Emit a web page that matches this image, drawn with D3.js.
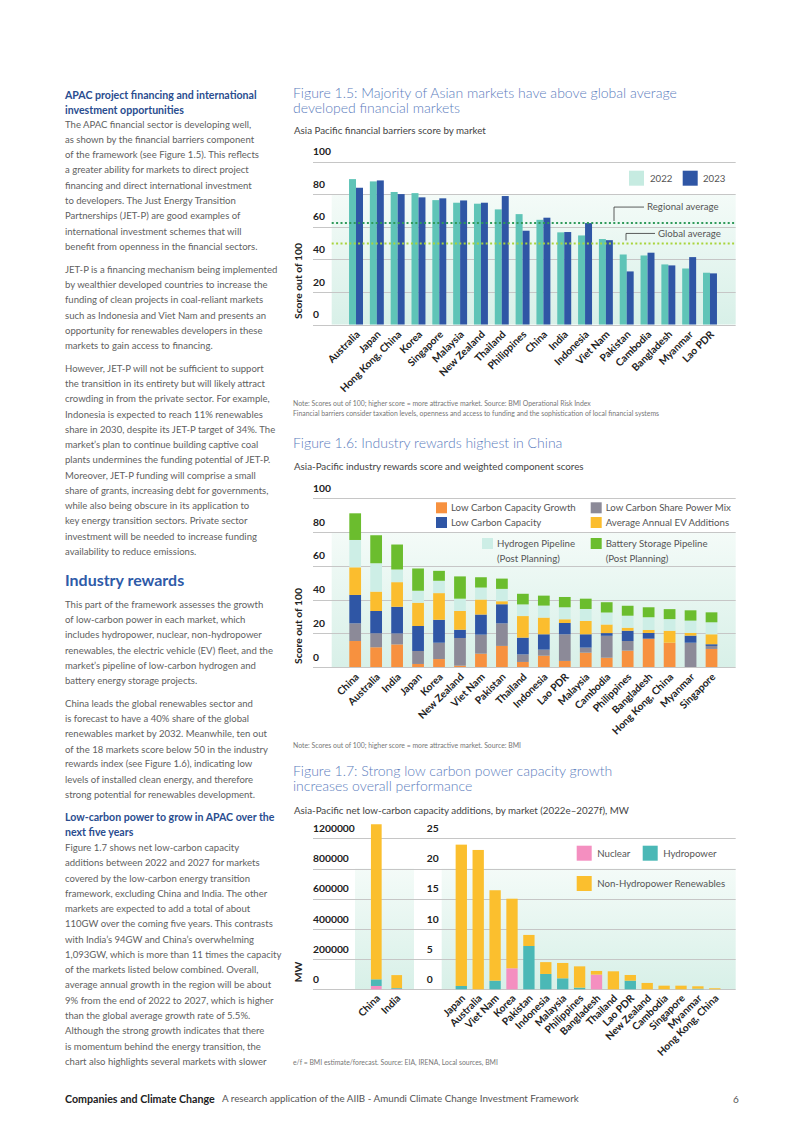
<!DOCTYPE html>
<html><head><meta charset="utf-8">
<script src="https://cdn.jsdelivr.net/npm/d3@7"></script>
<style>
body{margin:0;background:#fff}
svg{display:block}
text{font-family:Lato,"Source Sans Pro","Noto Sans",sans-serif}
</style>
</head><body>
<svg id="page" width="802" height="1133"></svg>
<script>
// ---------------- DATA ----------------
const fig5Markets = ["Australia","Japan","Hong Kong, China","Korea","Singapore","Malaysia","New Zealand","Thailand","Philippines","China","India","Indonesia","Viet Nam","Pakistan","Cambodia","Bangladesh","Myanmar","Lao PDR"];
const fig5Values2022 = [89.3,87.9,81.4,80.7,76.4,74.8,74.2,70.7,67.8,64.3,56.6,54.7,52.5,43.0,42.4,36.9,34.4,31.8];
const fig5Values2023 = [84.0,88.5,80.1,78.1,77.5,76.2,74.8,78.9,57.6,65.6,56.8,62.3,51.8,32.6,44.1,36.3,41.4,31.4];
const fig5Years = ["2022","2023"];
const fig5Ticks = [0,20,40,60,80,100];
const regionalAverage = 62.3;
const globalAverage = 49.8;

const fig6Markets = ["China","Australia","India","Japan","Korea","New Zealand","Viet Nam","Pakistan","Thailand","Indonesia","Lao PDR","Malaysia","Cambodia","Philippines","Bangladesh","Hong Kong, China","Myanmar","Singapore"];
const fig6SeriesNames = ["Low Carbon Capacity Growth","Low Carbon Share Power Mix","Low Carbon Capacity","Average Annual EV Additions","Hydrogen Pipeline (Post Planning)","Battery Storage Pipeline (Post Planning)"];
const fig6Growth   = [15.4,11.7,13.4,1.8,4.7,0.8,7.9,12.5,3.0,6.7,3.6,8.5,5.5,9.7,16.8,14.4,0,10.7];
const fig6Share    = [10.5,8.3,6.5,7.7,9.7,16.4,11.3,13.4,4.5,3.6,15.8,3.0,13.0,5.7,0,0,14.4,1.8];
const fig6Capacity = [16.8,13.2,15.8,14.8,13.6,4.9,11.9,11.3,9.9,9.1,6.7,7.9,1.6,6.1,3.4,0,4.2,1.0];
const fig6EV       = [16.4,11.5,14.6,13.8,15.8,11.1,8.9,1.8,12.8,9.9,2.2,7.9,5.1,1.8,1.8,7.1,1.6,5.9];
const fig6Hydrogen = [16.2,16.8,7.5,7.1,7.3,7.3,7.1,7.3,6.9,7.1,7.1,7.1,7.1,7.1,7.5,6.9,7.3,7.1];
const fig6Battery  = [15.8,16.6,14.8,13.2,5.9,13.2,6.1,6.1,6.3,5.9,6.1,6.1,6.1,5.9,5.9,5.9,6.1,5.9];
const fig6Ticks = [0,20,40,60,80,100];

const fig7BigMarkets = ["China","India"];
const fig7BigNuclear = [22000,3000];
const fig7BigHydro   = [44000,5000];
const fig7BigRenew   = [1027000,86000];
const fig7Markets = ["Japan","Australia","Viet Nam","Korea","Pakistan","Indonesia","Malaysia","Philippines","Bangladesh","Thailand","Lao PDR","New Zealand","Cambodia","Singapore","Myanmar","Hong Kong, China"];
const fig7Nuclear = [0,0,0,3.48,0,0,0,0,2.43,0,0,0,0,0,0,0];
const fig7Hydro   = [0.55,0,1.43,0,7.17,2.54,1.82,0.28,0,0,1.43,0,0,0,0.1,0];
const fig7Renew   = [23.4,23.07,14.97,11.52,1.83,1.96,2.54,3.52,0.61,2.98,0.94,1.05,0.6,0.6,0.4,0.17];
const fig7SeriesNames = ["Nuclear","Hydropower","Non-Hydropower Renewables"];
const fig7LeftTickValues = [0,200000,400000,600000,800000,1000000];
const fig7LeftTickLabels = ["0","200000","400000","600000","800000","1200000"];
const fig7RightTicks = [0,5,10,15,20,25];

// ---------------- TEXT ----------------
const col1 = [
 ["h","APAC project financing and international",95],
 ["h","investment opportunities",110],
 ["b","The APAC financial sector is developing well,",124.3],
 ["b","as shown by the financial barriers component",140],
 ["b","of the framework (see Figure 1.5). This reflects",155],
 ["b","a greater ability for markets to direct project",170],
 ["b","financing and direct international investment",185.7],
 ["b","to developers. The Just Energy Transition",200.7],
 ["b","Partnerships (JET-P) are good examples of",216],
 ["b","international investment schemes that will",231.3],
 ["b","benefit from openness in the financial sectors.",246.7],
 ["b","JET-P is a financing mechanism being implemented",269.3],
 ["b","by wealthier developed countries to increase the",284.7],
 ["b","funding of clean projects in coal-reliant markets",300],
 ["b","such as Indonesia and Viet Nam and presents an",315.3],
 ["b","opportunity for renewables developers in these",330.7],
 ["b","markets to gain access to financing.",346],
 ["b","However, JET-P will not be sufficient to support",368.7],
 ["b","the transition in its entirety but will likely attract",384],
 ["b","crowding in from the private sector. For example,",399],
 ["b","Indonesia is expected to reach 11% renewables",414.3],
 ["b","share in 2030, despite its JET-P target of 34%. The",429.3],
 ["b","market\u2019s plan to continue building captive coal",444.7],
 ["b","plants undermines the funding potential of JET-P.",460],
 ["b","Moreover, JET-P funding will comprise a small",475.3],
 ["b","share of grants, increasing debt for governments,",490.3],
 ["b","while also being obscure in its application to",505.7],
 ["b","key energy transition sectors. Private sector",521],
 ["b","investment will be needed to increase funding",536.3],
 ["b","availability to reduce emissions.",551.3],
 ["H","Industry rewards",580],
 ["b","This part of the framework assesses the growth",604.3],
 ["b","of low-carbon power in each market, which",620],
 ["b","includes hydropower, nuclear, non-hydropower",635],
 ["b","renewables, the electric vehicle (EV) fleet, and the",650.7],
 ["b","market\u2019s pipeline of low-carbon hydrogen and",665.7],
 ["b","battery energy storage projects.",680.7],
 ["b","China leads the global renewables sector and",703.3],
 ["b","is forecast to have a 40% share of the global",718.7],
 ["b","renewables market by 2032. Meanwhile, ten out",734],
 ["b","of the 18 markets score below 50 in the industry",749.3],
 ["b","rewards index (see Figure 1.6), indicating low",764],
 ["b","levels of installed clean energy, and therefore",779.3],
 ["b","strong potential for renewables development.",795],
 ["h","Low-carbon power to grow in APAC over the",817.7],
 ["h","next five years",832.7],
 ["b","Figure 1.7 shows net low-carbon capacity",847.3],
 ["b","additions between 2022 and 2027 for markets",862.7],
 ["b","covered by the low-carbon energy transition",878.3],
 ["b","framework, excluding China and India. The other",893.3],
 ["b","markets  are expected to add a total of about",908.7],
 ["b","110GW over the coming five years. This contrasts",924],
 ["b","with India\u2019s 94GW and China\u2019s overwhelming",939.3],
 ["b","1,093GW, which is more than 11 times the capacity",954.3],
 ["b","of the markets listed below combined. Overall,",969.7],
 ["b","average annual growth in the region will be about",985],
 ["b","9% from the end of 2022 to 2027, which is higher",1000.3],
 ["b","than the global average growth rate of 5.5%.",1015.7],
 ["b","Although the strong growth indicates that there",1031],
 ["b","is momentum behind the energy transition, the",1046.3],
 ["b","chart also highlights several markets with slower",1061.7]
];

// ---------------- HELPERS ----------------
const svg = d3.select("#page");
svg.append("rect").attr("width",802).attr("height",1133).attr("fill","#fff");
const defs = svg.append("defs");
const grad = defs.append("linearGradient").attr("id","shade").attr("x1",0).attr("y1",0).attr("x2",0).attr("y2",1);
grad.append("stop").attr("offset","0%").attr("stop-color","#f4fbf8");
grad.append("stop").attr("offset","100%").attr("stop-color","#d8f0e8");

function fitSize(sel, target){
  const cur = parseFloat(sel.attr("font-size"));
  const w = sel.node().getComputedTextLength();
  return cur * target / w;
}
function text(g, x, y, s, size, opts={}){
  return g.append("text").attr("x",x).attr("y",y).attr("dy","0.35em")
    .attr("font-size",size).attr("fill",opts.fill||"#555")
    .attr("font-weight",opts.weight||400)
    .attr("text-anchor",opts.anchor||"start").text(s);
}

// ---------------- LEFT COLUMN ----------------
const left = svg.append("g");
const refBody = text(left,0,-100,"JET-P is a financing mechanism being implemented",10);
const bodySize = fitSize(refBody, 212.7); refBody.remove();
const refH = text(left,0,-100,"APAC project financing and international",10,{weight:700});
const hSize = fitSize(refH, 191.6); refH.remove();
const refHH = text(left,0,-100,"Industry rewards",10,{weight:700});
const hhSize = fitSize(refHH, 119.3); refHH.remove();
col1.forEach(([k,s,y])=>{
  if(k==="b") text(left,65,y,s,bodySize,{fill:"#5f5f5f"});
  else if(k==="h") text(left,65,y,s,hSize,{fill:"#2a4d8f",weight:700});
  else text(left,65,y,s,hhSize,{fill:"#2e5aa8",weight:700});
});

// footer
const foot = svg.append("g");
const fb = text(foot,65,1099,"Companies and Climate Change",10,{fill:"#222",weight:700});
fb.attr("font-size",fitSize(fb,150));
const fr = text(foot,222,1099,"A research application of the AIIB - Amundi Climate Change Investment Framework",10,{fill:"#555"});
fr.attr("font-size",fitSize(fr,357));
text(foot,733,1099,"6",10,{fill:"#555"});

// common text sizes for charts
const refTitle = text(svg,0,-100,"Figure 1.5: Majority of Asian markets have above global average",15,{weight:300});
const titleSize = fitSize(refTitle,384); refTitle.remove();
const refSub = text(svg,0,-100,"Asia Pacific financial barriers score by market",10);
const subSize = fitSize(refSub,192); refSub.remove();
const refNote = text(svg,0,-100,"Note: Scores out of 100; higher score = more attractive market. Source: BMI Operational Risk Index",7);
const noteSize = fitSize(refNote,298); refNote.remove();
const refLeg = text(svg,0,-100,"Low Carbon Capacity Growth",10);
const legSize = fitSize(refLeg,125); refLeg.remove();
const titleColor = "#5b7dbd";
const tickSize = 10.3;
const labelSize = 10.2;

function title(lines, y0, sub, subY){
  lines.forEach((l,i)=>text(svg,293,y0+i*15,l,titleSize,{fill:titleColor,weight:300}));
  text(svg,294,subY,sub,subSize,{fill:"#444"});
}
function yTitle(s, cx, cy){
  svg.append("text").attr("transform",`translate(${cx},${cy}) rotate(-90)`)
    .attr("text-anchor","middle").attr("dy","0.35em").attr("font-size",10.3).attr("font-weight",700)
    .attr("fill","#222").text(s);
}
function xLabels(g, scale, names, y0){
  g.selectAll("text.xl").data(names).enter().append("text").attr("class","xl")
    .attr("transform",d=>`translate(${scale(d)+scale.bandwidth()/2+2},${y0}) rotate(-45)`)
    .attr("text-anchor","end").attr("dy","0.35em").attr("font-size",labelSize).attr("font-weight",700)
    .attr("fill","#222").text(d=>d);
}
function grid(g, y, vals, x0, x1){
  g.selectAll("line.gl").data(vals).enter().append("line").attr("class","gl")
    .attr("x1",x0).attr("x2",x1).attr("y1",d=>Math.round(y(d))+0.5).attr("y2",d=>Math.round(y(d))+0.5)
    .attr("stroke","#c6c6c6").attr("stroke-width",1);
}

// ---------------- FIGURE 1.5 ----------------
title(["Figure 1.5: Majority of Asian markets have above global average","developed financial markets"],93,"Asia Pacific financial barriers score by market",131);
const g5 = svg.append("g");
const y5 = d3.scaleLinear().domain([0,100]).range([324.5,161.7]);
const x5 = d3.scaleBand().domain(fig5Markets).range([345.6,720.4]).paddingInner(0.33).paddingOuter(0.165);
const xs5 = d3.scaleBand().domain(fig5Years).range([0,x5.bandwidth()]);
g5.append("rect").attr("x",331.7).attr("width",735.7-331.7).attr("y",y5(80)).attr("height",y5(0)-y5(80)).attr("fill","url(#shade)");
grid(g5,y5,fig5Ticks,313,735.7);
fig5Ticks.forEach(t=>text(g5,313,y5(t)-10,String(t),tickSize,{fill:"#222",weight:700}));
const rows5 = fig5Markets.map((m,i)=>({m, v:[fig5Values2022[i],fig5Values2023[i]]}));
const grp5 = g5.selectAll("g.grp").data(rows5).enter().append("g").attr("transform",d=>`translate(${x5(d.m)},0)`);
grp5.selectAll("rect").data(d=>d.v.map((v,j)=>({yr:fig5Years[j],v}))).enter().append("rect")
  .attr("x",d=>xs5(d.yr)).attr("width",xs5.bandwidth()).attr("y",d=>y5(d.v)).attr("height",d=>y5(0)-y5(d.v))
  .attr("fill",d=>d.yr==="2022"?"#5fc4b7":"#2f56a5");
// averages
g5.append("line").attr("x1",331.7).attr("x2",735.7).attr("y1",y5(regionalAverage)).attr("y2",y5(regionalAverage))
  .attr("stroke","#2f9a5a").attr("stroke-width",2).attr("stroke-dasharray","2,2.4");
g5.append("line").attr("x1",331.7).attr("x2",735.7).attr("y1",y5(globalAverage)).attr("y2",y5(globalAverage))
  .attr("stroke","#a9d43c").attr("stroke-width",2).attr("stroke-dasharray","2,2.4");
const annSize = legSize;
g5.append("path").attr("d",`M644,${y5(regionalAverage)-16}H614V${y5(regionalAverage)-2}`).attr("fill","none").attr("stroke","#333").attr("stroke-width",0.8);
text(g5,647,y5(regionalAverage)-16,"Regional average",annSize,{fill:"#555"});
g5.append("path").attr("d",`M655,${y5(globalAverage)-10}H626V${y5(globalAverage)-3}`).attr("fill","none").attr("stroke","#333").attr("stroke-width",0.8);
text(g5,658,y5(globalAverage)-10,"Global average",annSize,{fill:"#555"});
// legend
g5.append("rect").attr("x",629).attr("y",170.7).attr("width",15).attr("height",15).attr("fill","#c6ebe1");
text(g5,650,178.2,"2022",annSize,{fill:"#555"});
g5.append("rect").attr("x",682.7).attr("y",170.7).attr("width",15).attr("height",15).attr("fill","#2f56a5");
text(g5,703,178.2,"2023",annSize,{fill:"#555"});
xLabels(g5,x5,fig5Markets,y5(0)+8);
yTitle("Score out of 100",298,281);
text(svg,293,404,"Note: Scores out of 100; higher score = more attractive market. Source: BMI Operational Risk Index",noteSize,{fill:"#777"});
text(svg,293,414,"Financial barriers consider taxation levels, openness and access to funding and the sophistication of local financial systems",noteSize,{fill:"#777"});

// ---------------- FIGURE 1.6 ----------------
title(["Figure 1.6: Industry rewards highest in China"],443,"Asia-Pacific industry rewards score and weighted component scores",467);
const g6 = svg.append("g");
const y6 = d3.scaleLinear().domain([0,100]).range([667,498.3]);
const x6 = d3.scaleBand().domain(fig6Markets).range([344.7,722]).paddingInner(0.44).paddingOuter(0.22);
const colors6 = ["#f7913f","#8c8a98","#2f56a5","#fbbd2e","#cdeee6","#6bbd2e"];
g6.append("rect").attr("x",331.7).attr("width",735.7-331.7).attr("y",y6(80)).attr("height",y6(0)-y6(80)).attr("fill","url(#shade)");
grid(g6,y6,fig6Ticks,313,735.7);
fig6Ticks.forEach(t=>text(g6,313,y6(t)-10,String(t),tickSize,{fill:"#222",weight:700}));
const rows6 = fig6Markets.map((m,i)=>({m, s0:fig6Growth[i], s1:fig6Share[i], s2:fig6Capacity[i], s3:fig6EV[i], s4:fig6Hydrogen[i], s5:fig6Battery[i]}));
const stack6 = d3.stack().keys(["s0","s1","s2","s3","s4","s5"])(rows6);
g6.selectAll("g.ser").data(stack6).enter().append("g").attr("fill",(d,i)=>colors6[i])
  .selectAll("rect").data(d=>d).enter().append("rect")
  .attr("x",d=>x6(d.data.m)).attr("width",x6.bandwidth())
  .attr("y",d=>y6(d[1])).attr("height",d=>y6(d[0])-y6(d[1]));
// legend
const leg6 = [
  {c:colors6[0],x:436,y:502.3,l:["Low Carbon Capacity Growth"]},
  {c:colors6[1],x:590.7,y:502.3,l:["Low Carbon Share Power Mix"]},
  {c:colors6[2],x:436,y:517,l:["Low Carbon Capacity"]},
  {c:colors6[3],x:590.7,y:517,l:["Average Annual EV Additions"]},
  {c:colors6[4],x:482,y:538,l:["Hydrogen Pipeline","(Post Planning)"]},
  {c:colors6[5],x:590.7,y:538,l:["Battery Storage Pipeline","(Post Planning)"]}
];
leg6.forEach(d=>{
  g6.append("rect").attr("x",d.x).attr("y",d.y).attr("width",11).attr("height",11).attr("fill",d.c);
  d.l.forEach((s,i)=>text(g6,d.x+15,d.y+5.5+i*15.5,s,legSize,{fill:"#555"}));
});
xLabels(g6,x6,fig6Markets,y6(0)+8);
yTitle("Score out of 100",298,626);
text(svg,293,746,"Note: Scores out of 100; higher score = more attractive market. Source: BMI",noteSize,{fill:"#777"});

// ---------------- FIGURE 1.7 ----------------
title(["Figure 1.7: Strong low carbon power capacity growth","increases overall performance"],771,"Asia-Pacific net low-carbon capacity additions, by market (2022e\u20132027f), MW",811);
const g7 = svg.append("g");
const y7 = d3.scaleLinear().domain([0,25]).range([989.3,838.3]);
const y7L = d3.scaleLinear().domain([0,1000000]).range([989.3,838.3]);
const x7L = d3.scaleBand().domain(fig7BigMarkets).range([366.1,406.9]).paddingInner(0.475).paddingOuter(0.2375);
const x7 = d3.scaleBand().domain(fig7Markets).range([452.85,723.25]).paddingInner(0.33).paddingOuter(0.165);
const colors7 = ["#f48fc0","#4bb8b6","#fbbf2e"];
g7.append("rect").attr("x",355).attr("width",59).attr("y",y7(20)).attr("height",y7(0)-y7(20)).attr("fill","url(#shade)");
g7.append("rect").attr("x",441.7).attr("width",735.7-441.7).attr("y",y7(20)).attr("height",y7(0)-y7(20)).attr("fill","url(#shade)");
grid(g7,y7,fig7RightTicks,313,735.7);
fig7LeftTickValues.forEach((t,i)=>text(g7,313,y7L(t)-10,fig7LeftTickLabels[i],tickSize,{fill:"#222",weight:700}));
fig7RightTicks.forEach(t=>text(g7,426.7,y7(t)-10,String(t),tickSize,{fill:"#222",weight:700}));
const rows7L = fig7BigMarkets.map((m,i)=>({m,n:fig7BigNuclear[i],h:fig7BigHydro[i],r:fig7BigRenew[i]}));
const rows7 = fig7Markets.map((m,i)=>({m,n:fig7Nuclear[i],h:fig7Hydro[i],r:fig7Renew[i]}));
const st7L = d3.stack().keys(["n","h","r"])(rows7L);
const st7 = d3.stack().keys(["n","h","r"])(rows7);
g7.selectAll("g.serL").data(st7L).enter().append("g").attr("fill",(d,i)=>colors7[i])
  .selectAll("rect").data(d=>d).enter().append("rect")
  .attr("x",d=>x7L(d.data.m)).attr("width",x7L.bandwidth())
  .attr("y",d=>y7L(d[1])).attr("height",d=>y7L(d[0])-y7L(d[1]));
g7.selectAll("g.serR").data(st7).enter().append("g").attr("fill",(d,i)=>colors7[i])
  .selectAll("rect").data(d=>d).enter().append("rect")
  .attr("x",d=>x7(d.data.m)).attr("width",x7.bandwidth())
  .attr("y",d=>y7(d[1])).attr("height",d=>y7(d[0])-y7(d[1]));
// legend
[{c:colors7[0],x:576.7,y:845.7,l:"Nuclear"},{c:colors7[1],x:642.7,y:845.7,l:"Hydropower"},{c:colors7[2],x:576.7,y:876,l:"Non-Hydropower Renewables"}]
.forEach(d=>{
  g7.append("rect").attr("x",d.x).attr("y",d.y).attr("width",15).attr("height",15).attr("fill",d.c);
  text(g7,d.x+20.5,d.y+7.5,d.l,legSize,{fill:"#555"});
});
const g7l = svg.append("g"); xLabels(g7l,x7L,fig7BigMarkets,y7(0)+7);
const g7r = svg.append("g"); xLabels(g7r,x7,fig7Markets,y7(0)+7);
yTitle("MW",298,972);
text(svg,293,1063,"e/f = BMI estimate/forecast. Source: EIA, IRENA, Local sources, BMI",noteSize,{fill:"#777"});
</script>
</body></html>
